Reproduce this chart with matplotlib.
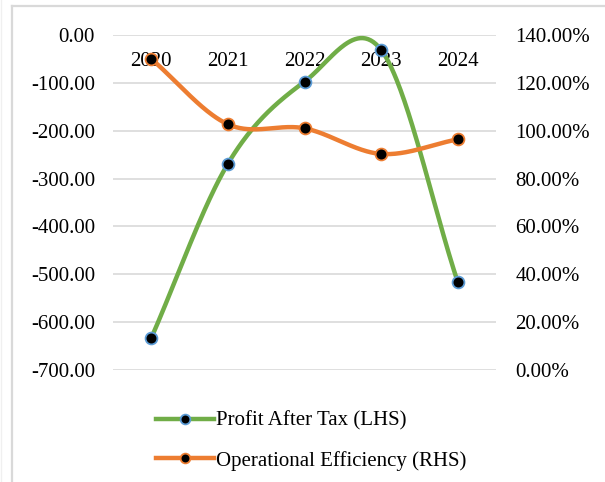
import numpy as np
import matplotlib
matplotlib.use("Agg")
import matplotlib.pyplot as plt
from matplotlib.ticker import FuncFormatter, FixedLocator
from matplotlib.lines import Line2D

years = ["2020", "2021", "2022", "2023", "2024"]
profit_after_tax = [-633, -269, -97.5, -31, -516]
operational_efficiency = [130.0, 102.7, 101.0, 90.3, 96.4]

plt.rcParams['font.family'] = ['Liberation Serif', 'DejaVu Serif']
FS = 15

def smooth(y, n=60):
    y = np.asarray(y, float)
    x = np.arange(len(y), dtype=float)
    m = np.zeros_like(y)
    m[1:-1] = (y[2:] - y[:-2]) / 2.0
    m[0] = 1.0 * (y[1] - y[0])
    m[-1] = 1.0 * (y[-1] - y[-2])
    xs, ys = [], []
    for i in range(len(y) - 1):
        t = np.linspace(0, 1, n)
        h00 = 2*t**3 - 3*t**2 + 1
        h10 = t**3 - 2*t**2 + t
        h01 = -2*t**3 + 3*t**2
        h11 = t**3 - t**2
        ys.append(h00*y[i] + h10*m[i] + h01*y[i+1] + h11*m[i+1])
        xs.append(x[i] + t)
    return np.concatenate(xs), np.concatenate(ys)

W, H = 605, 482
fig = plt.figure(figsize=(W/100, H/100), dpi=100)
# chart-area border (partially cropped in the reference)
bc = '#D9D9D9'
fig.add_artist(Line2D([12/W, 1], [1-5.5/H, 1-5.5/H], transform=fig.transFigure, color=bc, lw=1.6))
fig.add_artist(Line2D([12/W, 12/W], [0, 1-5.5/H], transform=fig.transFigure, color=bc, lw=1.6))
fig.add_artist(Line2D([0.7/W, 0.7/W], [0, 1], transform=fig.transFigure, color='#F0F0F0', lw=1.0))

ax = fig.add_axes([113/W, 1-370/H, (496-113)/W, (370-35)/H])
ax2 = ax.twinx()

green = '#70AD47'
orange = '#ED7D31'
x = np.arange(len(years))

xs, ys = smooth(profit_after_tax)
ax.plot(xs, ys, color=green, lw=3.2, solid_capstyle='round', zorder=3)
ax.plot(x, profit_after_tax, ls='none', marker='o', ms=8.5, mfc='black',
        mec='#5B9BD5', mew=1.3, zorder=4)

xs2, ys2 = smooth(operational_efficiency)
ax2.plot(xs2, ys2, color=orange, lw=3.2, solid_capstyle='round', zorder=3)
ax2.plot(x, operational_efficiency, ls='none', marker='o', ms=8.5, mfc='black',
         mec=orange, mew=1.3, zorder=4)

ax.set_xlim(-0.5, len(years) - 0.5)
ax.set_ylim(-700, 0)
ax2.set_ylim(0, 140)
ax.yaxis.set_major_locator(FixedLocator(np.arange(-700, 1, 100)))
ax2.yaxis.set_major_locator(FixedLocator(np.arange(0, 141, 20)))
ax.yaxis.set_major_formatter(FuncFormatter(lambda v, p: f"{v:.2f}"))
ax2.yaxis.set_major_formatter(FuncFormatter(lambda v, p: f"{v:.2f}%"))
ax.grid(axis='y', color='#D9D9D9', lw=1.2)
ax.set_axisbelow(True)

ax.set_xticks(x)
ax.set_xticklabels([])
for xi, lab in zip(x, years):
    ax.text(xi, -55, lab, ha='center', va='center', fontsize=FS, zorder=2)

for a in (ax, ax2):
    for s in a.spines.values():
        s.set_visible(False)
    a.tick_params(length=0, labelsize=FS)
ax.tick_params(axis='y', pad=13)
ax2.tick_params(axis='y', pad=14)
ax.tick_params(axis='x', labelbottom=False)

h1 = Line2D([], [], color=green, lw=3.2, marker='o', ms=7, mfc='black', mec='#5B9BD5', mew=1.3)
h2 = Line2D([], [], color=orange, lw=3.2, marker='o', ms=7, mfc='black', mec=orange, mew=1.3)
fig.legend([h1, h2], ["Profit After Tax (LHS)", "Operational Efficiency (RHS)"],
           loc='upper left', bbox_to_anchor=(148/W, 1-403/H), frameon=False,
           fontsize=FS, handlelength=2.75, handletextpad=0.12, labelspacing=0.95,
           borderaxespad=0)

fig.savefig("out.png", dpi=100)
